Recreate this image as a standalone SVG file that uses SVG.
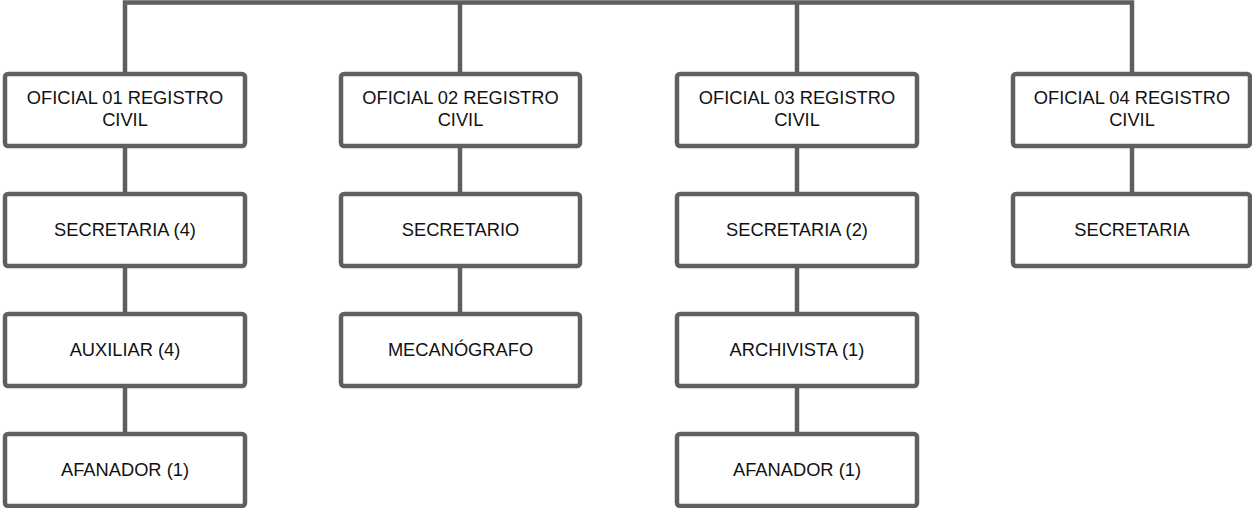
<svg xmlns="http://www.w3.org/2000/svg" width="1252" height="508" viewBox="0 0 1252 508">
<style>
.box{fill:#ffffff;stroke:#5f5f5f;stroke-width:4.5}
.ln{fill:none;stroke:#5f5f5f;stroke-width:4.5}
text{font-family:"Liberation Sans",Arial,sans-serif;font-size:18.3px;fill:#111111;text-anchor:middle}
</style>
<rect width="1252" height="508" fill="#ffffff"/>
<g id="connectors">
<path class="ln" d="M125 74V2.5H1132V74"/>
<path class="ln" d="M460 2.5V74"/>
<path class="ln" d="M797 2.5V74"/>
<path class="ln" d="M125 146V194M125 266V314M125 386V434"/>
<path class="ln" d="M460 146V194M460 266V314"/>
<path class="ln" d="M797 146V194M797 266V314M797 386V434"/>
<path class="ln" d="M1132 146V194"/>
</g>
<g id="of1"><rect class="box" x="5" y="74" width="240" height="72" rx="3"/><text x="125" y="104">OFICIAL 01 REGISTRO</text><text x="125" y="126">CIVIL</text></g>
<g id="of2"><rect class="box" x="341" y="74" width="239" height="72" rx="3"/><text x="460.5" y="104">OFICIAL 02 REGISTRO</text><text x="460.5" y="126">CIVIL</text></g>
<g id="of3"><rect class="box" x="677" y="74" width="240" height="72" rx="3"/><text x="797" y="104">OFICIAL 03 REGISTRO</text><text x="797" y="126">CIVIL</text></g>
<g id="of4"><rect class="box" x="1013" y="74" width="237" height="72" rx="3"/><text x="1132" y="104">OFICIAL 04 REGISTRO</text><text x="1132" y="126">CIVIL</text></g>
<g id="sec1"><rect class="box" x="5" y="194" width="240" height="72" rx="3"/><text x="125" y="235.5">SECRETARIA (4)</text></g>
<g id="sec2"><rect class="box" x="341" y="194" width="239" height="72" rx="3"/><text x="460.5" y="235.5">SECRETARIO</text></g>
<g id="sec3"><rect class="box" x="677" y="194" width="240" height="72" rx="3"/><text x="797" y="235.5">SECRETARIA (2)</text></g>
<g id="sec4"><rect class="box" x="1013" y="194" width="237" height="72" rx="3"/><text x="1132" y="235.5">SECRETARIA</text></g>
<g id="aux1"><rect class="box" x="5" y="314" width="240" height="72" rx="3"/><text x="125" y="355.5">AUXILIAR (4)</text></g>
<g id="mec2"><rect class="box" x="341" y="314" width="239" height="72" rx="3"/><text x="460.5" y="355.5">MECANÓGRAFO</text></g>
<g id="arc3"><rect class="box" x="677" y="314" width="240" height="72" rx="3"/><text x="797" y="355.5">ARCHIVISTA (1)</text></g>
<g id="afa1"><rect class="box" x="5" y="434" width="240" height="72" rx="3"/><text x="125" y="475.5">AFANADOR (1)</text></g>
<g id="afa3"><rect class="box" x="677" y="434" width="240" height="72" rx="3"/><text x="797" y="475.5">AFANADOR (1)</text></g>
</svg>
